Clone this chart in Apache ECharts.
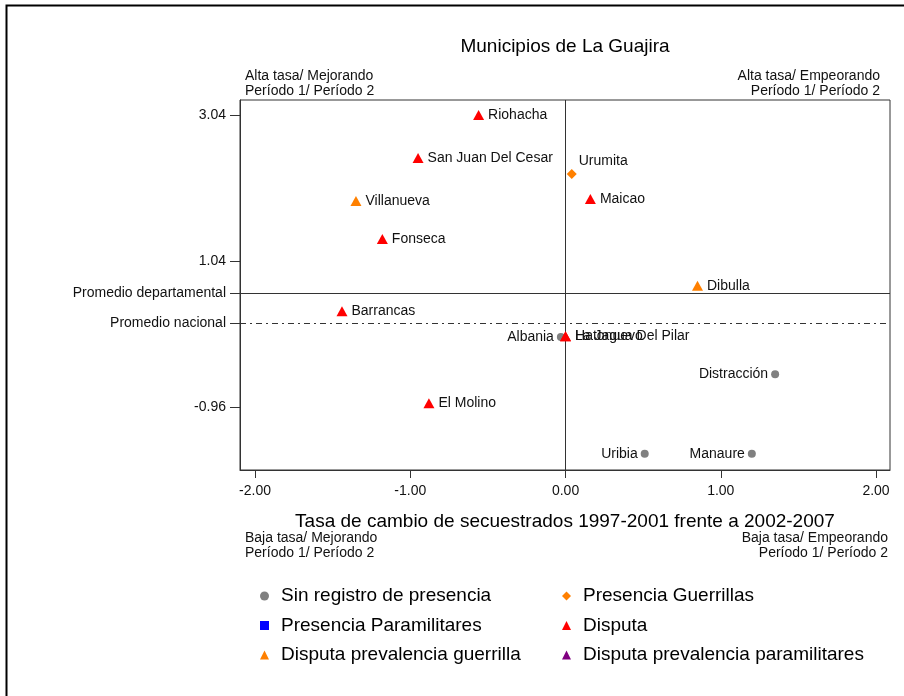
<!DOCTYPE html>
<html>
<head>
<meta charset="utf-8">
<script src="https://cdn.jsdelivr.net/npm/echarts@6/dist/echarts.min.js"></script>
<style>
  html, body { margin: 0; padding: 0; background: #fff; }
  #chart { width: 904px; height: 696px; }
</style>
</head>
<body>
<div id="chart"></div>
<script>
// grupos (leyenda)
const grupos = [
    'Sin registro de presencia',
    'Presencia Guerrillas',
    'Presencia Paramilitares',
    'Disputa',
    'Disputa prevalencia guerrilla',
    'Disputa prevalencia paramilitares'
]

// municipios: nombre, tasa de cambio (x), valor (y), grupo
const municipios = ['Riohacha', 'San Juan Del Cesar', 'Urumita', 'Maicao', 'Villanueva', 'Fonseca', 'Dibulla',
    'Barrancas', 'Albania', 'Hatonuevo', 'La Jagua Del Pilar', 'Distracción', 'El Molino', 'Uribia', 'Manaure']
const tasaX = [-0.56, -0.95, 0.04, 0.16, -1.35, -1.18, 0.85, -1.44, -0.03, 0.0, 0.0, 1.35, -0.88, 0.51, 1.2]
const tasaY = [3.04, 2.45, 2.23, 1.89, 1.86, 1.34, 0.7, 0.35, 0.0, 0.01, 0.01, -0.51, -0.91, -1.6, -1.6]
const grupoIdx = [3, 3, 1, 3, 4, 3, 4, 3, 0, 3, 3, 0, 3, 0, 0]

// ticks
const xTicks = [-2, -1, 0, 1, 2]
const promedioDepartamental = 0.602
const promedioNacional = 0.191
const yTickValues = [3.04, 1.04, promedioDepartamental, promedioNacional, -0.96]
const yTickLabels = ['3.04', '1.04', 'Promedio departamental', 'Promedio nacional', '-0.96']

const FONT = "'Liberation Sans', Arial, sans-serif"
const colores = ['#808080', '#ff8000', '#0000ff', '#ff0000', '#ff8000', '#800080']
const simbolos = ['circle', 'diamond', 'rect', 'triangle', 'triangle', 'triangle']
const tamanos = [8, 10, 9, [11, 10], [11, 10], [11, 10]]
const labelIzq = ['Albania', 'Distracción', 'Uribia', 'Manaure']

const chart = echarts.init(document.getElementById('chart'))

const series = grupos.map((g, gi) => {
    const data = []
    municipios.forEach((m, i) => {
        if (grupoIdx[i] !== gi) return
        const item = { name: m, value: [tasaX[i], tasaY[i]] }
        if (labelIzq.includes(m)) item.label = { position: 'left', distance: 3 }
        if (m === 'Urumita') item.label = { position: 'right', offset: [-2, -13] }
        data.push(item)
    })
    const s = {
        name: g,
        type: 'scatter',
        symbol: simbolos[gi],
        symbolSize: tamanos[gi],
        itemStyle: { color: colores[gi], opacity: 1 },
        label: {
            show: true, position: 'right', distance: 4,
            formatter: p => p.name,
            fontFamily: FONT, fontSize: 14, color: '#111'
        },
        emphasis: { disabled: true },
        data
    }
    if (gi === 0) {
        // líneas de referencia
        s.markLine = {
            silent: true,
            symbol: 'none',
            label: { show: false },
            animation: false,
            z: 1,
            data: [
                { xAxis: 0, lineStyle: { type: 'solid', color: '#333', width: 1 } },
                { yAxis: promedioDepartamental, lineStyle: { type: 'solid', color: '#333', width: 1 } },
                { yAxis: promedioNacional, lineStyle: { type: [6, 4, 2, 4], color: '#333', width: 1 } }
            ]
        }
    }
    return s
})

const legendBase = {
    orient: 'vertical',
    top: 581,
    itemWidth: 9,
    itemHeight: 9,
    itemGap: 9.5,
    selectedMode: false,
    textStyle: { fontFamily: FONT, fontSize: 19, lineHeight: 20, color: '#000', padding: [0, 0, 0, 7] }
}

const esquina = (text, x, y, align) => ({
    type: 'text', x, y,
    style: { text, fill: '#111', font: `14px ${FONT}`, textAlign: align, textVerticalAlign: 'top', lineHeight: 15 }
})

chart.setOption({
    animation: false,
    textStyle: { fontFamily: FONT },
    title: {
        text: 'Municipios de La Guajira',
        left: 560, top: 32, textAlign: 'center',
        textStyle: { fontSize: 19, fontWeight: 'normal', color: '#000', fontFamily: FONT }
    },
    grid: { left: 240, right: 14, top: 100, bottom: 226, show: true, borderColor: '#333', borderWidth: 1 },
    xAxis: {
        type: 'value',
        min: -2.097, max: 2.09,
        name: 'Tasa de cambio de secuestrados 1997-2001 frente a 2002-2007',
        nameLocation: 'middle',
        nameGap: 42,
        nameTextStyle: { fontSize: 19, color: '#000', fontFamily: FONT },
        axisLine: { show: true, onZero: false, lineStyle: { color: '#333' } },
        axisTick: { show: true, length: 8, customValues: xTicks, lineStyle: { color: '#333' } },
        axisLabel: { customValues: xTicks, formatter: v => v.toFixed(2), fontSize: 14, color: '#111', margin: 14 },
        splitLine: { show: false }
    },
    yAxis: {
        type: 'value',
        min: -1.823, max: 3.245,
        axisLine: { show: true, onZero: false, lineStyle: { color: '#333' } },
        axisTick: { show: true, length: 10, customValues: yTickValues, lineStyle: { color: '#333' } },
        axisLabel: {
            customValues: yTickValues,
            formatter: v => {
                const i = yTickValues.findIndex(t => Math.abs(t - v) < 1e-6)
                return i >= 0 ? yTickLabels[i] : ''
            },
            fontSize: 14, color: '#111', margin: 14
        },
        splitLine: { show: false }
    },
    legend: [
        Object.assign({}, legendBase, {
            left: 255,
            data: [0, 2, 4].map(i => ({ name: grupos[i], icon: simbolos[i] }))
        }),
        Object.assign({}, legendBase, {
            left: 557,
            data: [1, 3, 5].map(i => ({ name: grupos[i], icon: simbolos[i] }))
        })
    ],
    graphic: [
        { type: 'rect', shape: { x: 6.5, y: 5.5, width: 1000, height: 1000 }, style: { fill: 'none', stroke: '#000', lineWidth: 2 }, silent: true },
        esquina('Alta tasa/ Mejorando\nPeríodo 1/ Período 2', 245, 69, 'left'),
        esquina('Alta tasa/ Empeorando\nPeríodo 1/ Período 2', 880, 69, 'right'),
        esquina('Baja tasa/ Mejorando\nPeríodo 1/ Período 2', 245, 531, 'left'),
        esquina('Baja tasa/ Empeorando\nPeríodo 1/ Período 2', 888, 531, 'right')
    ],
    series
})
</script>
</body>
</html>
